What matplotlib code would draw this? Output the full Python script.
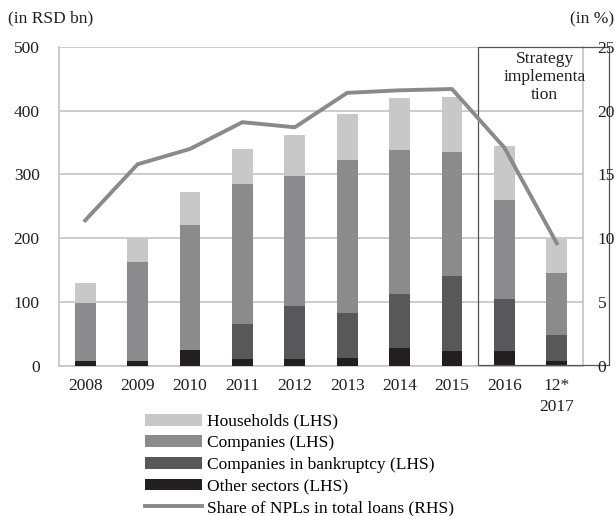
import numpy as np
import matplotlib.pyplot as plt
from matplotlib.patches import Rectangle

plt.rcParams['font.family'] = ['Liberation Serif', 'DejaVu Serif']

# Data (RSD bn, stacked segments)
years = ["2008", "2009", "2010", "2011", "2012", "2013", "2014", "2015", "2016", "12*\n2017"]
other_sectors = [7, 7, 24, 11, 11, 12, 28, 23, 23, 8]
bankruptcy = [0, 0, 0, 54, 82, 71, 84, 117, 82, 40]
companies = [92, 155, 196, 220, 204, 239, 226, 196, 155, 98]
households = [31, 38, 53, 55, 65, 73, 82, 86, 84, 52]
npl_share = [11.4, 15.8, 17.0, 19.1, 18.7, 21.4, 21.6, 21.7, 17.1, 9.6]

c_house = "#c8c8c8"
c_comp = "#8b8b8d"
c_bank = "#58585a"
c_other = "#231f20"
c_line = "#8a8a8c"
c_text = "#231f20"
c_grid = "#c4c4c4"
fs = 12.5

fig = plt.figure(figsize=(6.16, 5.16), dpi=100)
ax = fig.add_axes([0.0958, 0.2913, 0.8506, 0.6177])
x = np.arange(len(years))
w = 0.4

b0 = np.zeros(len(years))
ax.bar(x, other_sectors, w, bottom=b0, color=c_other, label="Other sectors (LHS)", zorder=3)
b0 = b0 + np.array(other_sectors)
ax.bar(x, bankruptcy, w, bottom=b0, color=c_bank, label="Companies in bankruptcy (LHS)", zorder=3)
b0 = b0 + np.array(bankruptcy)
ax.bar(x, companies, w, bottom=b0, color=c_comp, label="Companies (LHS)", zorder=3)
b0 = b0 + np.array(companies)
ax.bar(x, households, w, bottom=b0, color=c_house, label="Households (LHS)", zorder=3)

ax.set_xlim(-0.5, len(years) - 0.5)
ax.set_ylim(0, 500)
ax.set_yticks(range(0, 501, 100))
ax.yaxis.grid(True, color=c_grid, linewidth=1.2, zorder=0)
ax.set_axisbelow(True)
ax.spines["top"].set_visible(False)
for s in ["left", "right", "bottom"]:
    ax.spines[s].set_color(c_grid)
    ax.spines[s].set_linewidth(1.2)
ax.set_xticks(x)
ax.set_xticklabels(years, fontsize=fs, va="top", linespacing=1.4)
ax.tick_params(axis="both", length=0, labelsize=fs, colors=c_text)
ax.tick_params(axis="x", pad=9)
ax.tick_params(axis="y", pad=14)

ax2 = ax.twinx()
ax2.plot(x, npl_share, color=c_line, linewidth=2.8, label="Share of NPLs in total loans (RHS)", zorder=4)
ax2.set_ylim(0, 25)
ax2.set_yticks(range(0, 26, 5))
ax2.tick_params(axis="y", length=0, labelsize=fs, pad=10.5, colors=c_text)
for s in ax2.spines.values():
    s.set_visible(False)

# strategy implementation box
ax.add_patch(Rectangle((7.5, 0.5), 2.5, 499.5, fill=False, edgecolor="#555555", linewidth=0.9, zorder=5, clip_on=False))
ax.text(8.77, 494, "Strategy\nimplementa\ntion", ha="center", va="top", fontsize=12.5, linespacing=1.18, color=c_text)

fig.text(0.013, 0.965, "(in RSD bn)", fontsize=fs, va="center", color=c_text)
fig.text(0.997, 0.962, "(in %)", fontsize=fs, va="center", ha="right", color=c_text)

h1, l1 = ax.get_legend_handles_labels()
h2, l2 = ax2.get_legend_handles_labels()
handles = h1[::-1] + h2
labels = l1[::-1] + l2
fig.legend(handles, labels, loc="upper left", bbox_to_anchor=(0.235, 0.198), frameon=False,
           fontsize=fs, handlelength=3.3, handleheight=0.66, labelspacing=0.32, handletextpad=0.3,
           borderpad=0, borderaxespad=0)

fig.savefig("out.png", dpi=100)
